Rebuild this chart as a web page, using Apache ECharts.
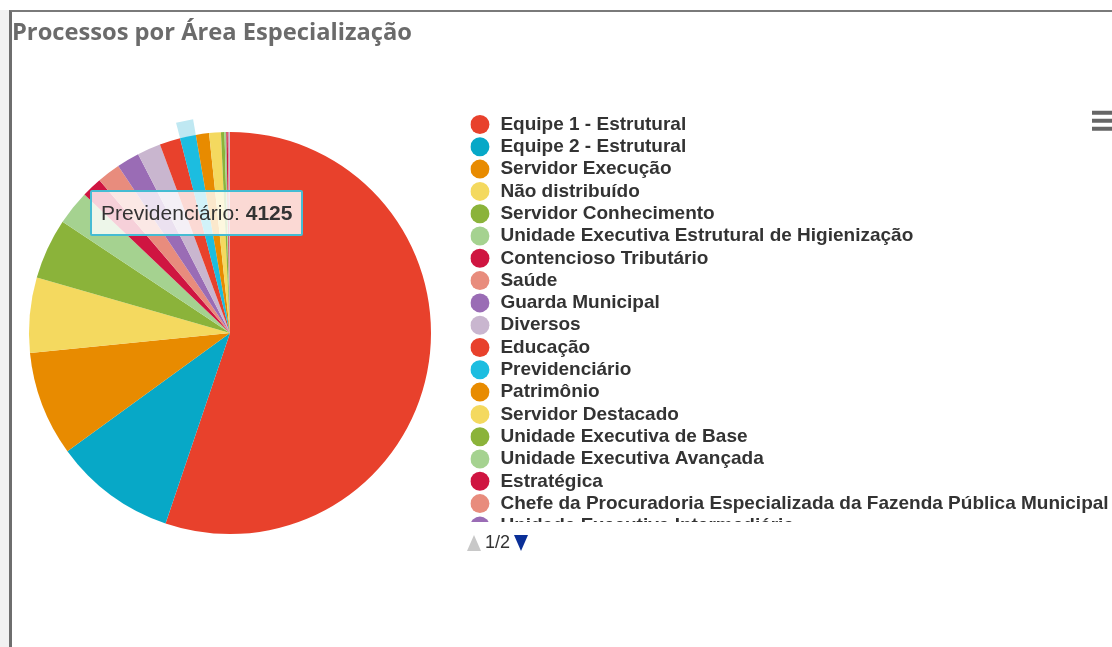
<!DOCTYPE html>
<html>
<head>
<meta charset="utf-8">
<script src="https://cdn.jsdelivr.net/npm/echarts@6.0.0/dist/echarts.min.js"></script>
<style>
  html, body { margin: 0; padding: 0; background: #fff; overflow: hidden; width: 1112px; height: 647px; }
  .side { position: absolute; left: 0; top: 10px; width: 9px; height: 640px; background: #f1f1f1; }
  .box { position: absolute; left: 9px; top: 10px; width: 1140px; height: 650px;
         border-left: 3px solid #6e6e6e; border-top: 2px solid #7a7a7a; }
  #chart { position: absolute; left: 0; top: 0; width: 1130px; height: 640px; }
</style>
</head>
<body>
<div class="side"></div>
<div class="box"><div id="chart"></div></div>
<script>
// áreas de especialização (ordem da legenda; a última fica na página 2)
const areas = [
  'Equipe 1 - Estrutural',
  'Equipe 2 - Estrutural',
  'Servidor Execução',
  'Não distribuído',
  'Servidor Conhecimento',
  'Unidade Executiva Estrutural de Higienização',
  'Contencioso Tributário',
  'Saúde',
  'Guarda Municipal',
  'Diversos',
  'Educação',
  'Previdenciário',
  'Patrimônio',
  'Servidor Destacado',
  'Unidade Executiva de Base',
  'Unidade Executiva Avançada',
  'Estratégica',
  'Chefe da Procuradoria Especializada da Fazenda Pública Municipal',
  'Unidade Executiva Intermediária',
  'Outros'
];

// quantidade de processos (estimada a partir do gráfico)
const processos = [
  178180, 31650, 27170, 19460, 15780, 8970, 5290, 6010, 5920, 6100,
  5380, 4125, 3410, 3050, 900, 480, 360, 240, 190, 150
];

const palette = ['#e8412c', '#07a8c7', '#e88b00', '#f4d95f', '#8bb33a',
                 '#a5d290', '#cf1541', '#e88c7d', '#9a6cb5', '#c9b6cf'];

const destaque = 'Previdenciário';

const chart = echarts.init(document.getElementById('chart'));

const mainData = areas.map((name, i) => ({
  name: name,
  value: processos[i],
  itemStyle: { color: name === destaque ? '#1cbde0' : palette[i % palette.length] }
}));

// fatia em destaque (hover) um pouco maior, por trás da pizza
const hoverData = areas.map((name, i) => ({
  name: name,
  value: processos[i],
  itemStyle: { color: name === destaque ? '#bfe8f2' : 'rgba(0,0,0,0)' }
}));

chart.setOption({
  animation: false,
  color: palette,
  title: {
    text: 'Processos por Área Especialização',
    left: 0,
    top: 9,
    padding: 0,
    textStyle: {
      fontFamily: 'Open Sans',
      fontSize: 23.7,
      fontWeight: 'bold',
      color: '#6b6b6b'
    }
  },
  tooltip: {
    trigger: 'item',
    triggerOn: 'none',
    alwaysShowContent: true,
    position: [78, 178],
    backgroundColor: 'rgba(255,255,255,0.8)',
    borderColor: '#45bcd3',
    borderWidth: 2,
    padding: [8, 9],
    extraCssText: 'box-shadow:none;border-radius:2px;',
    textStyle: { fontFamily: 'Liberation Sans', fontSize: 21, lineHeight: 26, color: '#333' },
    formatter: p => `<span style="font-size:21px;line-height:26px;color:#333">${p.name}: <b>${p.value}</b></span>`
  },
  toolbox: {
    left: 1080,
    top: 98.7,
    padding: 0,
    itemSize: 24,
    feature: {
      myMenu: {
        show: true,
        title: 'Menu',
        icon: 'path://M0,0H24V4H0Z M0,8H24V12H0Z M0,16H24V20H0Z',
        onclick: function () {}
      }
    },
    iconStyle: { color: '#666', borderWidth: 0 }
  },
  legend: {
    type: 'scroll',
    orient: 'vertical',
    left: 455,
    top: 103,
    height: 437,
    padding: 0,
    itemWidth: 31,
    itemHeight: 19,
    itemGap: 3.3,
    icon: 'circle',
    pageButtonGap: 12,
    pageButtonItemGap: -4,
    // a seta "próxima" leva um ponto invisível à direita para alinhar o paginador à esquerda
    pageIcons: {
      vertical: ['path://M0,16L14,16L7,0z', 'path://M0,0L14,0L7,16z M598,0L598,0']
    },
    pageIconSize: [2000, 16],
    pageIconColor: '#0a2f97',
    pageIconInactiveColor: '#c8c8c8',
    pageTextStyle: { fontFamily: 'Liberation Sans', fontSize: 18, color: '#333' },
    textStyle: { fontFamily: 'Liberation Sans', fontSize: 19, fontWeight: 'bold', color: '#333' },
    data: areas
  },
  series: [
    {
      name: 'Processos',
      type: 'pie',
      center: [218, 321],
      radius: 201,
      z: 3,
      label: { show: false },
      labelLine: { show: false },
      emphasis: { scale: false },
      data: mainData
    },
    {
      name: 'Destaque',
      type: 'pie',
      center: [218, 321],
      radius: 217,
      z: 1,
      silent: true,
      tooltip: { show: false },
      label: { show: false },
      labelLine: { show: false },
      data: hoverData
    }
  ]
});

chart.dispatchAction({ type: 'showTip', seriesIndex: 0, dataIndex: areas.indexOf(destaque) });
</script>
</body>
</html>
